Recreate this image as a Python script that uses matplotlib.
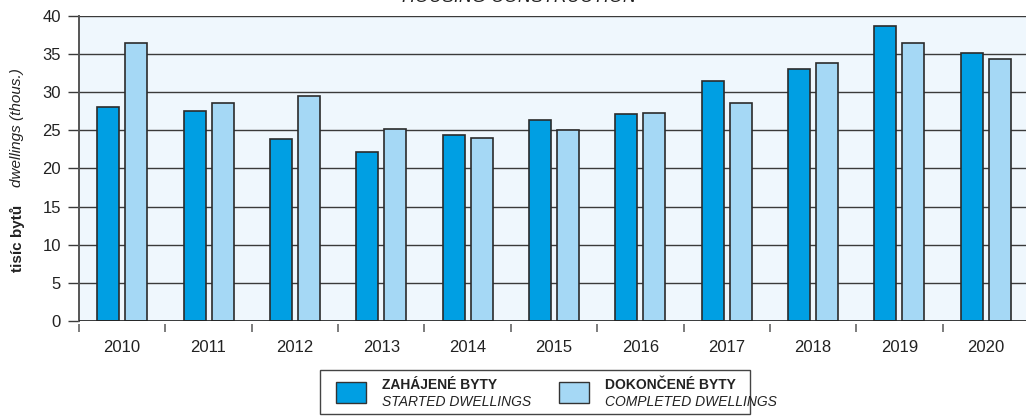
import matplotlib.pyplot as plt
import numpy as np
from matplotlib.patches import Rectangle

plt.rcParams['font.family'] = ['Liberation Sans', 'DejaVu Sans']

# Data
years = ['2010', '2011', '2012', '2013', '2014', '2015', '2016', '2017', '2018', '2019', '2020']
started = [28.1, 27.5, 23.9, 22.1, 24.4, 26.4, 27.2, 31.5, 33.1, 38.7, 35.2]
completed = [36.4, 28.6, 29.5, 25.2, 24.0, 25.1, 27.3, 28.6, 33.9, 36.4, 34.4]

c_start = '#009FE3'
c_done = '#A5D8F5'
edge = '#2b2b2b'

fig = plt.figure(figsize=(10.26, 4.19), dpi=100)
ax = fig.add_axes([79 / 1026, 98 / 419, 950 / 1026, 305 / 419])
ax.set_facecolor('#EFF7FD')

x = np.arange(len(years))
w = 0.255
off = 0.162
ax.bar(x - off, started, w, color=c_start, edgecolor=edge, linewidth=1.2, zorder=3)
ax.bar(x + off, completed, w, color=c_done, edgecolor=edge, linewidth=1.2, zorder=3)

ax.set_xlim(-0.5, len(years) - 0.5)
ax.set_ylim(0, 40)
ax.set_yticks(range(0, 41, 5))
ax.yaxis.grid(True, color='#3a3a3a', linewidth=1.0, zorder=1)
ax.tick_params(axis='y', length=8, width=1.0, color='#3a3a3a', labelsize=12,
               labelcolor='#222222', pad=5)

for s in ['top', 'right']:
    ax.spines[s].set_visible(False)
ax.spines['left'].set_color('#555555')
ax.spines['left'].set_linewidth(1.4)
ax.spines['left'].set_bounds(0, 40)
ax.spines['bottom'].set_visible(False)
ax.axhline(0, color='#222222', linewidth=1.2, zorder=4)

# x ticks: labels at centres, tick marks at category boundaries
ax.set_xticks(x)
ax.set_xticklabels(years)
ax.set_xticks(np.arange(-0.5, len(years) - 0.5, 1), minor=True)
ax.tick_params(axis='x', which='major', length=0, labelsize=12, labelcolor='#222222', pad=12)
ax.tick_params(axis='x', which='minor', direction='out', length=6, width=1.2,
               color='#666666', pad=0)
ax.spines['bottom'].set_position(('outward', 2))

# title (partly cut off at the top, as in the source)
fig.text(519 / 1026, 1 - 2.5 / 419, 'HOUSING CONSTRUCTION', style='italic',
         fontsize=13, ha='center', va='baseline', color='#222222')

# y labels: bold Czech part below, italic English part above, same line
fig.text(17 / 1026, 1 - 238 / 419, 'tisíc bytů', rotation=90, fontweight='bold',
         fontsize=11, ha='center', va='center', color='#222222')
fig.text(17 / 1026, 1 - 128 / 419, 'dwellings (thous.)', rotation=90, style='italic',
         fontsize=11, ha='center', va='center', color='#222222')

# legend drawn by hand
def px(xp, yp):
    return xp / 1026, 1 - yp / 419

lx, ly = px(320, 414)
fig.patches.append(Rectangle((lx, ly), 430 / 1026, 44 / 419, transform=fig.transFigure,
                             facecolor='white', edgecolor='#444444', linewidth=1.0))
items = [(336, c_start, 'ZAHÁJENÉ BYTY', 'STARTED DWELLINGS'),
         (559, c_done, 'DOKONČENÉ BYTY', 'COMPLETED DWELLINGS')]
for x0, col, cz, en in items:
    rx, ry = px(x0, 403)
    fig.patches.append(Rectangle((rx, ry), 30 / 1026, 21 / 419, transform=fig.transFigure,
                                 facecolor=col, edgecolor='#333333', linewidth=1.0))
    tx, ty = px(x0 + 46, 385)
    fig.text(tx, ty, cz, fontweight='bold', fontsize=10, va='center', color='#222222')
    tx, ty = px(x0 + 46, 402)
    fig.text(tx, ty, en, style='italic', fontsize=10, va='center', color='#222222')

fig.savefig('out.png', dpi=100)
